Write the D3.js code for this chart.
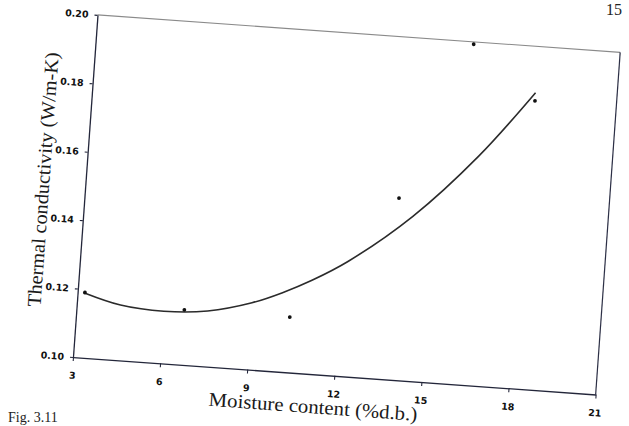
<!DOCTYPE html>
<html><head><meta charset="utf-8">
<script src="https://cdn.jsdelivr.net/npm/d3@7"></script>
<style>body{margin:0;background:#fff;overflow:hidden}</style>
</head><body>
<script>
// Data
const moisture = [3.25, 6.70, 10.33, 13.78, 15.96, 18.20];
const conductivity = [0.1190, 0.1160, 0.1161, 0.1530, 0.1993, 0.1841];
// Trendline (polynomial fit)
const trendMoisture = [3.26, 4.5, 6.0, 7.5, 9.0, 10.0, 11.0, 12.2, 14.3, 16.4, 18.2];
const trendConductivity = [0.1188, 0.1161, 0.1152, 0.1162, 0.1195, 0.1230, 0.1273, 0.1336, 0.1480, 0.1668, 0.1865];
const xTicks = [3, 6, 9, 12, 15, 18, 21];
const yTicks = [0.10, 0.12, 0.14, 0.16, 0.18, 0.20];
const xTitle = "Moisture content (%d.b.)";
const yTitle = "Thermal conductivity (W/m-K)";
const pageNumber = "15";
const caption = "Fig. 3.11";

const W = 629, H = 426;
const plotW = 524, plotH = 343;
const svg = d3.select("body").append("svg").attr("width", W).attr("height", H);
svg.append("rect").attr("width", W).attr("height", H).attr("fill", "#fff");

const g = svg.append("g").attr("transform", "translate(73,357) rotate(4.1)");

const x = d3.scaleLinear().domain([3, 21]).range([0, plotW]);
const y = d3.scaleLinear().domain([0.10, 0.20]).range([0, -plotH]);

// frame (top and right)
g.append("line").attr("x1", 0).attr("x2", plotW).attr("y1", -plotH).attr("y2", -plotH)
  .attr("stroke", "#8a8a8a").attr("stroke-width", 1.1);
g.append("line").attr("x1", plotW).attr("x2", plotW).attr("y1", 0).attr("y2", -plotH)
  .attr("stroke", "#2c2f45").attr("stroke-width", 1.2);

const tickFont = "'DejaVu Sans', sans-serif";

const xAxis = g.append("g")
  .call(d3.axisBottom(x).tickValues(xTicks).tickSize(4).tickSizeOuter(0).tickPadding(11)
    .tickFormat(d3.format("d")));
const yAxis = g.append("g")
  .call(d3.axisLeft(y).tickValues(yTicks).tickSize(3).tickSizeOuter(0).tickPadding(6)
    .tickFormat(d3.format(".2f")));

[xAxis, yAxis].forEach(a => {
  a.select(".domain").attr("stroke", "#23263a").attr("stroke-width", 1.3);
  a.selectAll(".tick line").attr("stroke", "#23263a").attr("stroke-width", 1.1);
  a.selectAll(".tick text").attr("fill", "#111").attr("font-family", tickFont)
    .attr("font-weight", "bold").attr("font-size", 9.5);
});

// trendline
const line = d3.line().x((d, i) => x(trendMoisture[i])).y((d, i) => y(trendConductivity[i]))
  .curve(d3.curveCatmullRom.alpha(0.5));
g.append("path").datum(trendMoisture).attr("d", line)
  .attr("fill", "none").attr("stroke", "#2b2b2b").attr("stroke-width", 1.6);

// points
g.selectAll("circle.pt").data(moisture).join("circle").attr("class", "pt")
  .attr("cx", d => x(d)).attr("cy", (d, i) => y(conductivity[i])).attr("r", 1.9)
  .attr("fill", "#111");

// axis titles
const serif = "'Liberation Serif', 'Times New Roman', serif";
g.append("text").attr("x", 243).attr("y", 39).attr("text-anchor", "middle")
  .attr("font-family", serif).attr("font-size", 19.5).attr("fill", "#1a1a1a")
  .attr("textLength", 209).attr("lengthAdjust", "spacingAndGlyphs")
  .text(xTitle);
g.append("text").attr("transform", "translate(-36,-175) rotate(-90)").attr("text-anchor", "middle")
  .attr("font-family", serif).attr("font-size", 19.5).attr("fill", "#1a1a1a")
  .attr("textLength", 255).attr("lengthAdjust", "spacingAndGlyphs")
  .text(yTitle);

// page furniture from the scan
svg.append("text").attr("x", 606).attr("y", 15).attr("font-family", serif).attr("font-size", 16)
  .attr("fill", "#222").text(pageNumber);
svg.append("text").attr("x", 8).attr("y", 422).attr("font-family", serif).attr("font-size", 14)
  .attr("fill", "#222").text(caption);
</script>
</body></html>
